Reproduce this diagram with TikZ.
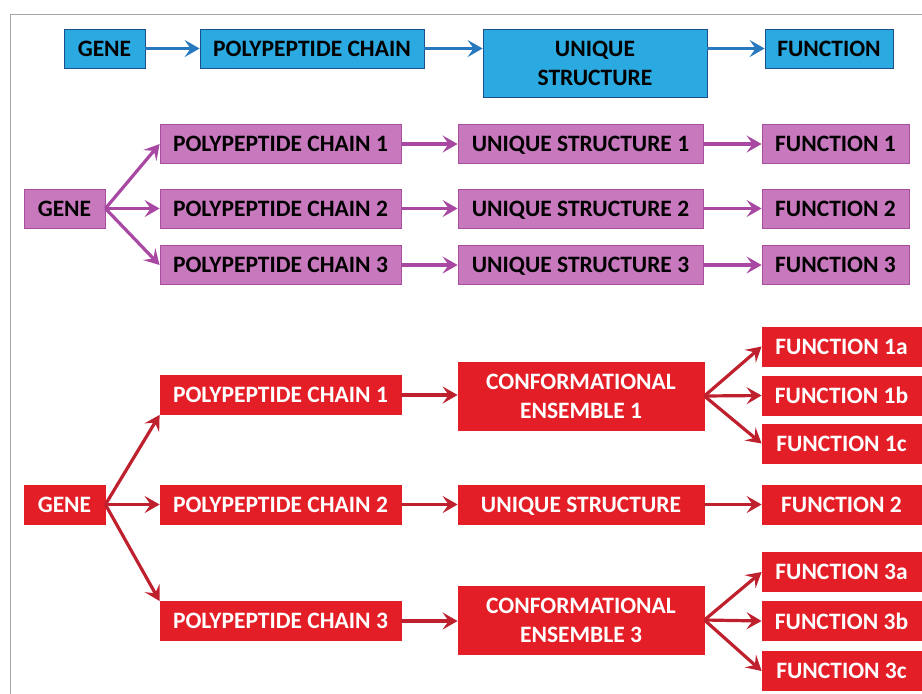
\documentclass[tikz,border=0pt]{standalone}
\usepackage{fontspec}
\setmainfont{Carlito}
\usepackage{xcolor}
\usetikzlibrary{arrows.meta,positioning}

\definecolor{bluefill}{RGB}{43,169,225}
\definecolor{blueline}{RGB}{31,78,140}
\definecolor{bluearrow}{RGB}{40,120,190}
\definecolor{purplefill}{RGB}{200,121,190}
\definecolor{purpleline}{RGB}{168,78,158}
\definecolor{purplearrow}{RGB}{168,72,162}
\definecolor{redfill}{RGB}{228,30,38}
\definecolor{redarrow}{RGB}{190,32,45}

\begin{document}
\begin{tikzpicture}[x=1pt,y=-1pt,
    box/.style={draw, line width=0.8pt, inner sep=0pt, align=center, text depth=0pt,
        font=\fontsize{23.5}{29}\selectfont\bfseries},
    bbox/.style={box, fill=bluefill, draw=blueline, text=black},
    pbox/.style={box, fill=purplefill, draw=purpleline, text=black},
    rbox/.style={box, fill=redfill, draw=redfill, text=white},
    barr/.style={draw=bluearrow, line width=3.2pt, -{Stealth[length=15pt,width=17pt,inset=6pt]}},
    parr/.style={draw=purplearrow, line width=3.2pt, -{Stealth[length=15pt,width=17pt,inset=6pt]}},
    rarr/.style={draw=redarrow, line width=3.2pt, -{Stealth[length=15pt,width=17pt,inset=6pt]}}]
\useasboundingbox (0,0) rectangle (922,694);
\draw[gray!70, line width=1pt] (10,694) -- (10,14) -- (922,14);

% one gene, one structure
\node[bbox, minimum width=81pt, minimum height=39pt] (bg) at (104.5,48.5) {GENE};
\node[bbox, minimum width=224pt, minimum height=39pt] (bp) at (312,48.5) {POLYPEPTIDE CHAIN};
\node[bbox, minimum width=224pt, minimum height=68pt] (bu) at (595,63) {UNIQUE\\STRUCTURE};
\node[bbox, minimum width=128pt, minimum height=39pt] (bf) at (829,48.5) {FUNCTION};
\draw[barr] (bg) -- (bp);
\draw[barr] (bp.east) -- (bp.east -| bu.west);
\draw[barr] (bf.west -| bu.east) -- (bf.west);

% one gene, several chains
\node[pbox, minimum width=81pt, minimum height=39pt] (pg) at (64.5,208.5) {GENE};
\foreach \i/\y in {1/144,2/208.5,3/265} {
    \node[pbox, minimum width=241pt, minimum height=39pt] (pc\i) at (280.5,\y) {POLYPEPTIDE CHAIN \i};
    \node[pbox, minimum width=245pt, minimum height=39pt] (pu\i) at (580.5,\y) {UNIQUE STRUCTURE \i};
    \node[pbox, minimum width=147pt, minimum height=39pt] (pf\i) at (835.5,\y) {FUNCTION \i};
    \draw[parr] (pg.east) -- (pc\i.west);
    \draw[parr] (pc\i) -- (pu\i);
    \draw[parr] (pu\i) -- (pf\i);
}

% one gene, conformational ensembles
\node[rbox, minimum width=81pt, minimum height=39pt] (rg) at (64.5,504.5) {GENE};
\foreach \i/\y in {1/395,2/504.5,3/621}
    \node[rbox, minimum width=241pt, minimum height=39pt] (rc\i) at (280.5,\y) {POLYPEPTIDE CHAIN \i};
\node[rbox, minimum width=246pt, minimum height=68pt] (re1) at (581,396) {CONFORMATIONAL\\ENSEMBLE 1};
\node[rbox, minimum width=246pt, minimum height=39pt] (ru) at (581,504.5) {UNIQUE STRUCTURE};
\node[rbox, minimum width=246pt, minimum height=68pt] (re3) at (581,620) {CONFORMATIONAL\\ENSEMBLE 3};
\foreach \n/\y in {1a/346.5,1b/395.5,1c/443.5,2/504.5,3a/572,3b/621,3c/671}
    \node[rbox, minimum width=159pt, minimum height=39pt] (rf\n) at (841.5,\y) {FUNCTION \n};
\draw[rarr] (rg.east) -- (rc1.south west);
\draw[rarr] (rg.east) -- (rc2.west);
\draw[rarr] (rg.east) -- (rc3.north west);
\draw[rarr] (rc1.east) -- (rc1.east -| re1.west);
\draw[rarr] (rc2) -- (ru);
\draw[rarr] (rc3.east) -- (rc3.east -| re3.west);
\foreach \n in {1a,1b,1c}
    \draw[rarr] (re1.east) -- (rf\n.west);
\draw[rarr] (ru) -- (rf2);
\foreach \n in {3a,3b,3c}
    \draw[rarr] (re3.east) -- (rf\n.west);
\end{tikzpicture}
\end{document}
